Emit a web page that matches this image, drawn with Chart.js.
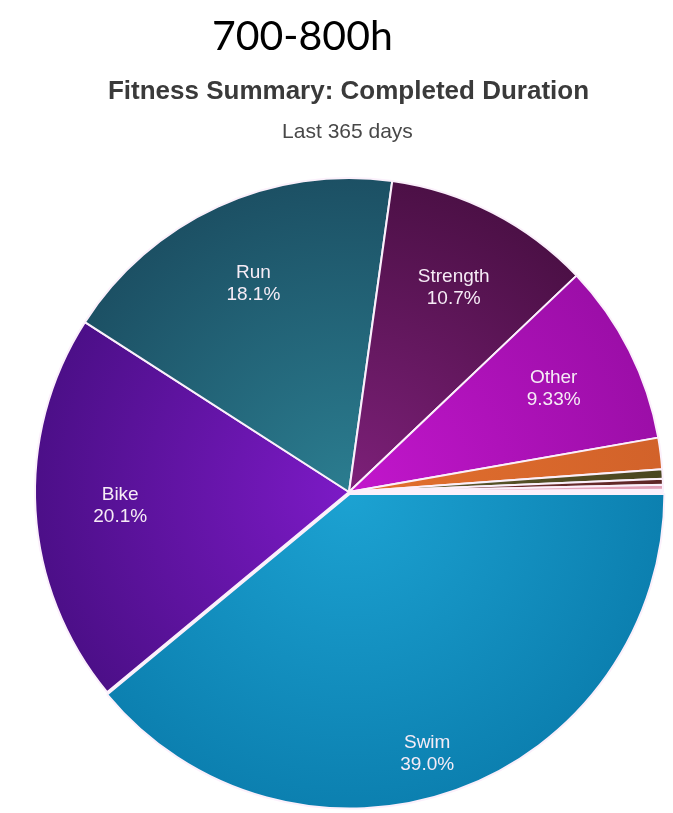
<!DOCTYPE html>
<html>
<head>
<meta charset="utf-8">
<script src="https://cdn.jsdelivr.net/npm/chart.js@4"></script>
<style>
    body { margin: 0; background: #fff; }
    #wrap { position: relative; width: 673px; height: 813px; overflow: hidden; }
    #myChart { position: absolute; left: 0; top: 0; }
    .txt { position: absolute; white-space: nowrap; line-height: 1; }
    #range { left: 212px; top: 10px; font: 41px Lato, sans-serif; color: #000; }
    #title { left: 0; width: 697px; text-align: center; top: 75px; font: bold 26px "Liberation Sans", Arial, sans-serif; color: #3a3a3a; }
    #subtitle { left: 0; width: 695px; text-align: center; top: 119px; font: 21px "Liberation Sans", Arial, sans-serif; color: #484848; }
</style>
</head>
<body>
<div id="wrap">
    <canvas id="myChart" width="673" height="813"></canvas>
    <div class="txt" id="range">700-800h</div>
    <div class="txt" id="title">Fitness Summary: Completed Duration</div>
    <div class="txt" id="subtitle">Last 365 days</div>
</div>
<script>
// share of completed duration per activity, percent
const activities = ['Swim', 'Bike', 'Run', 'Strength', 'Other', 'Walk', 'Hike', 'Row', 'Yoga', 'Ski'];
const shares = [39.0, 20.1, 18.1, 10.7, 9.33, 1.62, 0.48, 0.30, 0.25, 0.12];

// light (near centre) and dark (rim) shade for each slice
const innerColors = ['#1ca2d2', '#7c1ac6', '#2b7d90', '#7d2079', '#c216cc', '#e2702e', '#5e5a2c', '#7a3434', '#eab0c4', '#f0c8d8'];
const outerColors = ['#0c80b0', '#4c0f88', '#1c5064', '#4c1046', '#9c0ea8', '#d2622a', '#4a4620', '#5e2626', '#e2a0b8', '#e8b8cc'];

// radial shading from the pie centre out to the rim
function sliceShade(ctx) {
    const chart = ctx.chart;
    const area = chart.chartArea;
    const i = ctx.dataIndex;
    if (!area) return innerColors[i];
    const cx = (area.left + area.right) / 2;
    const cy = (area.top + area.bottom) / 2;
    const r = chart.options.radius;
    const g = chart.ctx.createRadialGradient(cx, cy, 0, cx, cy, r);
    g.addColorStop(0, innerColors[i]);
    g.addColorStop(1, outerColors[i]);
    return g;
}

// name + percentage written inside the larger slices
const sliceLabels = {
    id: 'sliceLabels',
    afterDatasetsDraw(chart) {
        const meta = chart.getDatasetMeta(0);
        const ctx = chart.ctx;
        ctx.save();
        ctx.fillStyle = '#f6ecf6';
        ctx.font = '19px "Liberation Sans", Arial, sans-serif';
        ctx.textAlign = 'center';
        ctx.textBaseline = 'middle';
        meta.data.forEach((arc, i) => {
            if (shares[i] < 5) return;
            const p = arc.getProps(['x', 'y', 'startAngle', 'endAngle', 'outerRadius']);
            const mid = (p.startAngle + p.endAngle) / 2;
            const off = arc.options.offset || 0;
            // the big swim slice carries its label further out
            const k = shares[i] > 30 ? 0.86 : 0.73;
            const d = p.outerRadius * k + off;
            const tx = p.x + Math.cos(mid) * d - (shares[i] > 30 ? 16 : 0);
            const ty = p.y + Math.sin(mid) * d;
            ctx.fillText(activities[i], tx, ty - 11);
            ctx.fillText(shares[i].toPrecision(3) + '%', tx, ty + 11);
        });
        ctx.restore();
    }
};

const chart = new Chart(document.getElementById('myChart').getContext('2d'), {
    type: 'pie',
    data: {
        labels: activities,
        datasets: [{
            data: shares,
            backgroundColor: sliceShade,
            borderColor: '#fbf0fb',
            borderWidth: 2,
            offset: activities.map((a, i) => i === 0 ? 8 : 0)
        }]
    },
    options: {
        responsive: false,
        animation: false,
        rotation: 90,
        radius: 314,
        layout: { padding: { left: 25, right: 0, top: 171, bottom: 0 } },
        plugins: {
            legend: { display: false },
            tooltip: { enabled: false }
        }
    },
    plugins: [sliceLabels]
});
</script>
</body>
</html>
